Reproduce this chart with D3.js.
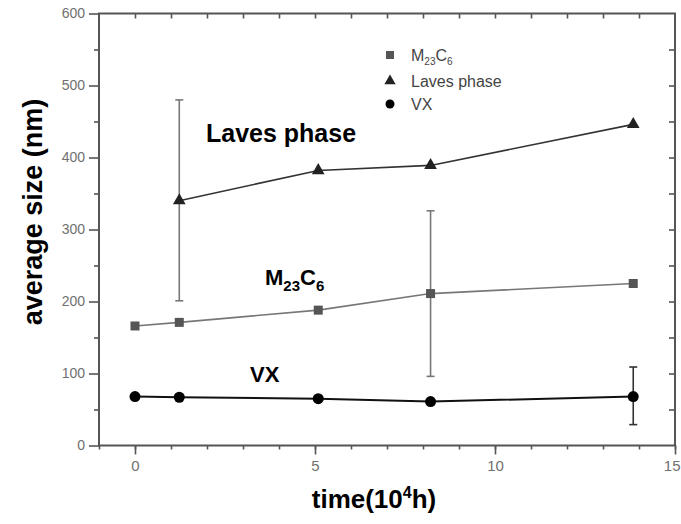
<!DOCTYPE html>
<html>
<head>
<meta charset="utf-8">
<script src="https://cdn.jsdelivr.net/npm/d3@7"></script>
<style>
  html, body { margin: 0; padding: 0; background: #fff; overflow: hidden; }
  svg { display: block; font-family: Arial, "Liberation Sans", sans-serif; }
</style>
</head>
<body>
<svg id="chart"></svg>
<script>
// average precipitate size vs. ageing time

const times = [0, 1.23, 5.09, 8.21, 13.84];
const m23c6 = [166, 171, 188, 211, 225];
const laves = [null, 340, 382, 389, 446];
const vx = [68, 67, 65, 61, 68];

// error bars: [time, low, high]
const lavesErr = [[1.23, 201, 480]];
const m23c6Err = [[8.21, 96, 326]];
const vxErr = [[13.84, 29, 109]];

const xTicks = [0, 5, 10, 15];
const yTicks = [0, 100, 200, 300, 400, 500, 600];

const width = 681, height = 524;
const svg = d3.select("#chart").attr("width", width).attr("height", height);

const x = d3.scaleLinear().domain([-1, 15]).range([99, 675]);
const y = d3.scaleLinear().domain([0, 600]).range([445.5, 13.5]);

const frame = "#555";

// axes
const gx = svg.append("g").attr("transform", `translate(0,${y(0)})`)
    .call(d3.axisBottom(x).tickValues(d3.range(-1, 16)).tickSize(4).tickFormat(""));
const gxMaj = svg.append("g").attr("transform", `translate(0,${y(0)})`)
    .call(d3.axisBottom(x).tickValues(xTicks).tickSize(9).tickPadding(6).tickFormat(d3.format("d")));
const gxTop = svg.append("g").attr("transform", `translate(0,${y(600)})`)
    .call(d3.axisBottom(x).tickValues(d3.range(0, 15)).tickSize(5).tickFormat(""));

const gy = svg.append("g").attr("transform", `translate(${x(-1)},0)`)
    .call(d3.axisLeft(y).tickValues(d3.range(50, 600, 100)).tickSize(5).tickFormat(""));
const gyMaj = svg.append("g").attr("transform", `translate(${x(-1)},0)`)
    .call(d3.axisLeft(y).tickValues(yTicks).tickSize(10).tickPadding(4).tickFormat(d3.format("d")));
const gyRight = svg.append("g").attr("transform", `translate(${x(15)},0)`)
    .call(d3.axisRight(y).tickValues(d3.range(50, 600, 50)).tickSize(-6).tickFormat(""));

[gx, gxMaj, gxTop, gy, gyMaj, gyRight].forEach(g => {
    g.select(".domain").remove();
    g.selectAll(".tick line").attr("stroke", frame).attr("stroke-width", 1.6);
    g.selectAll(".tick text").attr("fill", "#707070").attr("font-size", 14);
});
gxMaj.selectAll(".tick text").attr("font-size", 15)
    .filter(d => d === 15).attr("text-anchor", "end").attr("dx", 5);

// frame
svg.append("rect")
    .attr("x", x(-1)).attr("y", y(600))
    .attr("width", x(15) - x(-1)).attr("height", y(0) - y(600))
    .attr("fill", "none").attr("stroke", frame).attr("stroke-width", 2);

// error bars
function errorBars(data, color) {
    const g = svg.append("g").attr("stroke", color).attr("stroke-width", 1.6);
    data.forEach(([t, lo, hi]) => {
        g.append("line").attr("x1", x(t)).attr("x2", x(t)).attr("y1", y(lo)).attr("y2", y(hi));
        [lo, hi].forEach(v => g.append("line")
            .attr("x1", x(t) - 4).attr("x2", x(t) + 4).attr("y1", y(v)).attr("y2", y(v)));
    });
}
errorBars(lavesErr, "#777");
errorBars(m23c6Err, "#777");
errorBars(vxErr, "#333");

// lines
const line = d3.line()
    .defined(d => d[1] != null)
    .x(d => x(d[0])).y(d => y(d[1]));

function series(vals, color, w) {
    svg.append("path")
        .datum(times.map((t, i) => [t, vals[i]]))
        .attr("fill", "none").attr("stroke", color).attr("stroke-width", w)
        .attr("stroke-linejoin", "round")
        .attr("d", line);
}
series(m23c6, "#777", 1.6);
series(laves, "#333", 1.6);
series(vx, "#111", 2);

// markers
times.forEach((t, i) => {
    svg.append("rect")
        .attr("x", x(t) - 4.5).attr("y", y(m23c6[i]) - 4.5)
        .attr("width", 9).attr("height", 9).attr("fill", "#555");
    if (laves[i] != null) {
        svg.append("path")
            .attr("d", d3.symbol(d3.symbolTriangle, 70)())
            .attr("transform", `translate(${x(t)},${y(laves[i])})`)
            .attr("fill", "#222");
    }
    svg.append("circle")
        .attr("cx", x(t)).attr("cy", y(vx[i])).attr("r", 5.5).attr("fill", "#000");
});

// legend
const lg = svg.append("g").attr("font-size", 16).attr("fill", "#444");
lg.append("rect").attr("x", 386).attr("y", 51).attr("width", 8).attr("height", 8).attr("fill", "#555");
lg.append("path").attr("d", d3.symbol(d3.symbolTriangle, 55)())
    .attr("transform", "translate(390,81)").attr("fill", "#222");
lg.append("circle").attr("cx", 390).attr("cy", 104).attr("r", 4.5).attr("fill", "#000");
const l1 = lg.append("text").attr("x", 411).attr("y", 61);
l1.append("tspan").text("M");
l1.append("tspan").attr("font-size", 10).attr("dy", 4).text("23");
l1.append("tspan").attr("dy", -4).text("C");
l1.append("tspan").attr("font-size", 10).attr("dy", 4).text("6");
lg.append("text").attr("x", 411).attr("y", 87).text("Laves phase");
lg.append("text").attr("x", 411).attr("y", 110).text("VX");

// in-plot labels
svg.append("text").attr("x", 206).attr("y", 142)
    .attr("font-size", 25).attr("font-weight", "bold").attr("fill", "#000")
    .text("Laves phase");
const mt = svg.append("text").attr("x", 265).attr("y", 285)
    .attr("font-size", 22).attr("font-weight", "bold").attr("fill", "#000");
mt.append("tspan").text("M");
mt.append("tspan").attr("font-size", 15).attr("dy", 6).text("23");
mt.append("tspan").attr("dy", -6).text("C");
mt.append("tspan").attr("font-size", 15).attr("dy", 6).text("6");
svg.append("text").attr("x", 250).attr("y", 382)
    .attr("font-size", 22).attr("font-weight", "bold").attr("fill", "#000")
    .text("VX");

// axis titles
svg.append("text")
    .attr("transform", "translate(42,212) rotate(-90)")
    .attr("text-anchor", "middle")
    .attr("font-size", 27).attr("font-weight", "bold").attr("fill", "#000")
    .text("average size (nm)");
const xt = svg.append("text").attr("x", 374).attr("y", 508)
    .attr("text-anchor", "middle")
    .attr("font-size", 26).attr("font-weight", "bold").attr("fill", "#000");
xt.append("tspan").text("time(10");
xt.append("tspan").attr("font-size", 16).attr("dy", -10).text("4");
xt.append("tspan").attr("dy", 10).text("h)");
</script>
</body>
</html>
